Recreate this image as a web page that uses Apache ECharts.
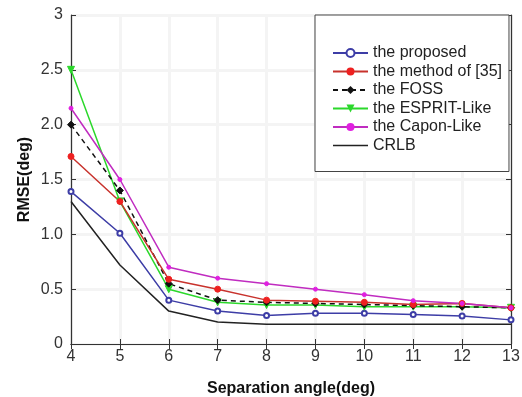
<!DOCTYPE html>
<html>
<head>
<meta charset="utf-8">
<script src="https://cdn.jsdelivr.net/npm/echarts@6/dist/echarts.min.js"></script>
<style>
  html, body { margin: 0; padding: 0; background: #fff; }
  #chart { width: 522px; height: 397px; }
</style>
</head>
<body>
<div id="chart"></div>
<script>
// Separation angle (deg)
const angles = [4, 5, 6, 7, 8, 9, 10, 11, 12, 13];

// RMSE (deg) per method
const proposed = [1.39, 1.01, 0.40, 0.30, 0.26, 0.28, 0.28, 0.27, 0.255, 0.22];
const method35 = [1.71, 1.30, 0.59, 0.50, 0.40, 0.39, 0.38, 0.36, 0.37, 0.33];
const foss     = [2.00, 1.40, 0.55, 0.40, 0.38, 0.37, 0.36, 0.35, 0.34, 0.33];
const esprit   = [2.50, 1.30, 0.50, 0.38, 0.355, 0.355, 0.34, 0.34, 0.34, 0.33];
const capon    = [2.15, 1.50, 0.70, 0.60, 0.55, 0.50, 0.45, 0.395, 0.37, 0.33];
const crlb     = [1.30, 0.72, 0.30, 0.20, 0.18, 0.18, 0.18, 0.18, 0.18, 0.18];

const seriesNames = ['the proposed', 'the method of [35]', 'the FOSS',
                     'the ESPRIT-Like', 'the Capon-Like', 'CRLB'];

const pairs = arr => angles.map((a, i) => [a, arr[i]]);

const font = 'Liberation Sans, Arial, sans-serif';
const axisColor = '#333';
const gridLine = { show: true, lineStyle: { color: '#f4f4f4', width: 3 } };

function mkSeries(name, data, color, symbol, size, extra) {
  return Object.assign({
    name: name,
    type: 'line',
    data: pairs(data),
    symbol: symbol,
    symbolSize: size,
    showSymbol: symbol !== 'none',
    lineStyle: { color: color, width: 1.5 },
    itemStyle: { color: color, borderColor: color },
    animation: false
  }, extra || {});
}

// plain line icon for the CRLB legend entry (no marker)
const lineIcon = 'path://M0 0 L36 0 L36 1.6 L0 1.6 Z';

const chart = echarts.init(document.getElementById('chart'), null, { renderer: 'canvas' });
chart.setOption({
  backgroundColor: '#fff',
  textStyle: { fontFamily: font },
  grid: { left: 71, right: 11, top: 15, bottom: 53, containLabel: false, outerBoundsMode: 'none' },
  xAxis: [{
    type: 'value', min: 4, max: 13, interval: 1,
    name: 'Separation angle(deg)', nameLocation: 'middle', nameGap: 37,
    nameTextStyle: { fontWeight: 'bold', fontSize: 16, color: '#111', fontFamily: font },
    axisLine: { lineStyle: { color: axisColor, width: 1.2 } },
    axisTick: { inside: true, length: 5, lineStyle: { color: axisColor } },
    axisLabel: { fontSize: 16, color: '#333', margin: 5, fontFamily: font },
    splitLine: gridLine
  }, {
    type: 'value', min: 4, max: 13, interval: 1, position: 'top',
    axisLine: { lineStyle: { color: axisColor, width: 1.2 } },
    axisTick: { inside: true, length: 5, lineStyle: { color: axisColor } },
    axisLabel: { show: false }, splitLine: { show: false }
  }],
  yAxis: [{
    type: 'value', min: 0, max: 3, interval: 0.5,
    name: 'RMSE(deg)', nameLocation: 'middle', nameGap: 38, nameMoveOverlap: false,
    nameTextStyle: { fontWeight: 'bold', fontSize: 16, color: '#111', fontFamily: font },
    axisLine: { show: true, lineStyle: { color: axisColor, width: 1.2 } },
    axisTick: { show: true, inside: true, length: 5, lineStyle: { color: axisColor } },
    axisLabel: {
      fontSize: 16, color: '#333', margin: 8, fontFamily: font,
      formatter: v => (v === 0 || v === 3) ? String(v) : v.toFixed(1)
    },
    splitLine: gridLine
  }, {
    type: 'value', min: 0, max: 3, interval: 0.5, position: 'right',
    axisLine: { show: true, lineStyle: { color: axisColor, width: 1.2 } },
    axisTick: { show: true, inside: true, length: 5, lineStyle: { color: axisColor } },
    axisLabel: { show: false }, splitLine: { show: false }
  }],
  legend: {
    data: seriesNames.map(n => n === 'CRLB' ? { name: n, icon: lineIcon } : n),
    orient: 'vertical',
    left: 315, top: 15,
    padding: [30, 7, 18, 17],
    itemWidth: 35, itemHeight: 10, itemGap: 2.5,
    backgroundColor: '#fff',
    borderColor: '#444', borderWidth: 1,
    textStyle: { fontSize: 16, color: '#222', fontFamily: font }
  },
  series: [
    mkSeries('CRLB', crlb, '#222', 'none', 0),
    mkSeries('the proposed', proposed, '#3d3da6', 'emptyCircle', 5),
    mkSeries('the ESPRIT-Like', esprit, '#2bd82b', 'triangle', 7, { symbolRotate: 180 }),
    mkSeries('the FOSS', foss, '#111', 'diamond', 7,
      { lineStyle: { color: '#111', width: 1.5, type: [5, 4] } }),
    mkSeries('the method of [35]', method35, '#c8322c', 'circle', 6,
      { itemStyle: { color: '#ee2020', borderColor: '#ee2020' } }),
    mkSeries('the Capon-Like', capon, '#c02cc0', 'circle', 4,
      { itemStyle: { color: '#e020e0', borderColor: '#e020e0' } })
  ]
});
</script>
</body>
</html>
